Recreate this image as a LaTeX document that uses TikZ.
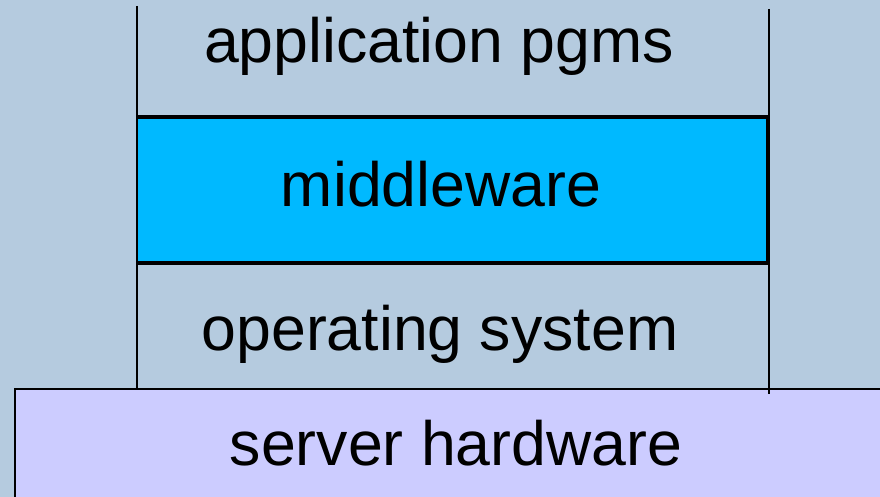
\documentclass[tikz,border=0pt]{standalone}
\usepackage{fontspec}
\setmainfont{Liberation Sans}
\definecolor{bg}{HTML}{B5CBDF}
\definecolor{mid}{HTML}{00B9FF}
\definecolor{srv}{HTML}{CCCCFF}
\tikzset{
  lbl/.style={anchor=base, inner sep=0pt, font=\fontsize{62.6}{70}\selectfont},
  rule/.style={line width=1.8pt, black},
}
\begin{document}
\begin{tikzpicture}[x=1pt,y=-1pt]
\useasboundingbox (0,0) rectangle (880,497);
\fill[bg] (0,0) rectangle (880,497);
% coordinates
\coordinate (lt) at (137,6);
\coordinate (lb) at (137,389);
\coordinate (rt) at (769,9);
\coordinate (rb) at (769,394);
\coordinate (ml) at (137,116);
\coordinate (mr) at (769,116);
\coordinate (ol) at (137,264);
\coordinate (or) at (769,264);
% middleware box
\draw[rule, fill=mid] (137,118) rectangle (767,262);
% server box
\draw[rule, fill=srv] (15,389) rectangle (890,510);
% stack lines
\draw[rule] (lt) -- (lb);
\draw[rule] (rt) -- (rb);
\draw[rule] (ml) -- (mr);
\draw[rule] (ol) -- (or);
% labels
\node[lbl] (app) at (439,63) {application pgms};
\node[lbl] (mw) at (441,207) {middleware};
\node[lbl] (os) at (440,350) {operating system};
\node[lbl] (hw) at (456,465) {server hardware};
\end{tikzpicture}
\end{document}
